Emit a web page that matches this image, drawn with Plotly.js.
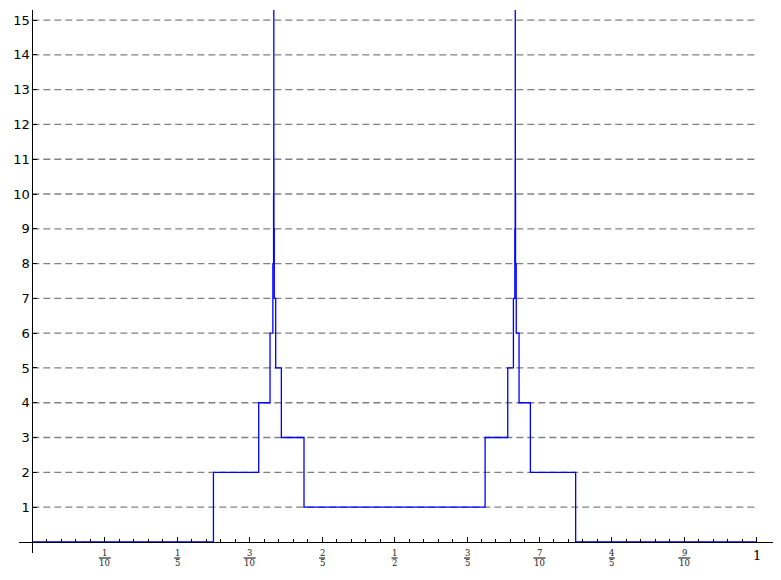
<!DOCTYPE html>
<html>
<head>
<meta charset="utf-8">
<script src="https://cdn.plot.ly/plotly-3.0.1.min.js"></script>
<style>
  html, body { margin: 0; padding: 0; background: #fff; }
  #graph { width: 781px; height: 580px; }
</style>
</head>
<body>
<div id="graph"></div>
<script>
// step breakpoints (x) and the level held from each breakpoint on
const stepX = [
  0, 0.25, 0.3125, 0.328125, 0.33203125, 0.3330078125, 0.333251953125,
  0.33331298828125, 0.3333282470703125, 0.3333333333,
  0.33333396911621094, 0.33333587646484375, 0.333343505859375,
  0.3333740234375, 0.33349609375, 0.333984375, 0.3359375, 0.34375, 0.375,
  0.625, 0.65625, 0.6640625, 0.666015625, 0.66650390625, 0.6666259765625,
  0.666656494140625, 0.6666641235351562, 0.6666666667,
  0.6666679382324219, 0.6666717529296875, 0.66668701171875,
  0.666748046875, 0.6669921875, 0.66796875, 0.671875, 0.6875, 0.75, 1
];
const stepY = [
  0, 2, 4, 6, 8, 10, 12,
  14, 16, 18,
  17, 15, 13,
  11, 9, 7, 5, 3, 1,
  3, 5, 7, 9, 11, 13,
  15, 17, 18,
  16, 14, 12,
  10, 8, 6, 4, 2, 0, 0
];

// x tick labels as fractions
const xTickVals = [0.1, 0.2, 0.3, 0.4, 0.5, 0.6, 0.7, 0.8, 0.9];
const xTickNum = ['1', '1', '3', '2', '1', '3', '7', '4', '9'];
const xTickDen = ['10', '5', '10', '5', '2', '5', '10', '5', '10'];
const yTickVals = [1, 2, 3, 4, 5, 6, 7, 8, 9, 10, 11, 12, 13, 14, 15];

const trace = {
  x: stepX,
  y: stepY,
  type: 'scatter',
  mode: 'lines',
  line: { shape: 'hv', color: '#0000ff', width: 1.3 },
  hoverinfo: 'skip'
};

// minor ticks every 0.02 inside [0, 1]
const minorVals = [];
for (let i = 1; i < 50; i++) {
  if (i % 5 !== 0) minorVals.push(i / 50);
}

const shapes = [];
const annotations = [];

// dashed horizontal grid from x=0 to x=1
yTickVals.forEach(function (v) {
  shapes.push({
    type: 'line', xref: 'x', yref: 'y', layer: 'below',
    x0: 0, x1: 1, y0: v, y1: v,
    line: { color: '#808080', width: 1.3, dash: '7px,4px' }
  });
});

// stacked fraction labels
xTickVals.forEach(function (v, i) {
  const fracFont = { family: 'DejaVu Serif, serif', size: 8.5, color: '#222' };
  annotations.push({
    x: v, y: 0, xref: 'x', yref: 'y', text: xTickNum[i], showarrow: false,
    xanchor: 'center', yanchor: 'middle', yshift: -11, font: fracFont
  });
  annotations.push({
    x: v, y: 0, xref: 'x', yref: 'y', text: xTickDen[i], showarrow: false,
    xanchor: 'center', yanchor: 'middle', yshift: -21, font: fracFont
  });
  const half = xTickDen[i].length > 1 ? 6 : 3;
  // bar of the fraction, just under the plot area
  shapes.push({
    type: 'line', xref: 'x', yref: 'paper',
    xsizemode: 'pixel', xanchor: v, x0: -half, x1: half,
    ysizemode: 'pixel', yanchor: 0, y0: -5, y1: -5,
    line: { color: '#000', width: 1 }
  });
});

annotations.push({
  x: 1, y: 0, xref: 'x', yref: 'y', text: '1', showarrow: false,
  xanchor: 'center', yanchor: 'middle', yshift: -14,
  font: { family: 'DejaVu Serif, serif', size: 13, color: '#000' }
});

const layout = {
  width: 781,
  height: 580,
  margin: { l: 19, r: 8, t: 10, b: 27, pad: 0 },
  paper_bgcolor: '#fff',
  plot_bgcolor: '#fff',
  showlegend: false,
  xaxis: {
    range: [-0.0184, 1.0224],
    anchor: 'free',
    position: 0.0205,
    showgrid: false,
    zeroline: false,
    showline: true,
    linecolor: '#000',
    linewidth: 1,
    tickmode: 'array',
    tickvals: xTickVals.concat([1]),
    showticklabels: false,
    ticks: 'inside',
    ticklen: 5,
    tickcolor: '#000',
    tickwidth: 1,
    minor: {
      tickmode: 'array',
      tickvals: minorVals,
      ticks: 'inside',
      ticklen: 2.5,
      tickcolor: '#000',
      tickwidth: 1,
      showgrid: false
    }
  },
  yaxis: {
    range: [-0.32, 15.29],
    anchor: 'free',
    position: 0.0177,
    showgrid: false,
    zeroline: false,
    showline: true,
    linecolor: '#000',
    linewidth: 1,
    tickmode: 'array',
    tickvals: yTickVals,
    ticks: 'inside',
    ticklen: 4,
    tickcolor: '#000',
    tickwidth: 1,
    tickfont: { family: 'DejaVu Sans, sans-serif', size: 13, color: '#000' }
  },
  shapes: shapes,
  annotations: annotations
};

Plotly.newPlot('graph', [trace], layout, { staticPlot: true });
</script>
</body>
</html>
